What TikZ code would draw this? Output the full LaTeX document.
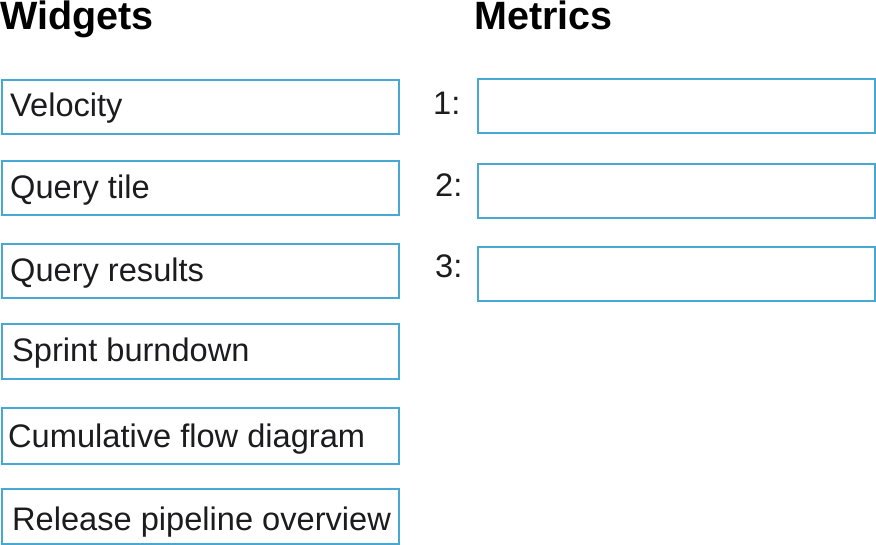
\documentclass[tikz,border=0pt]{standalone}
\usepackage{fontspec}
\setmainfont{Liberation Sans}
\definecolor{boxblue}{RGB}{72,168,212}
\definecolor{inkc}{RGB}{28,28,30}
\begin{document}
\begin{tikzpicture}[x=1pt,y=-1pt,
  boxshape/.style={draw=boxblue, line width=2pt, fill=white, rectangle, inner sep=0pt, anchor=north west},
  itemtext/.style={anchor=base west, inner sep=0pt, text=inkc, font=\fontsize{32.6}{36}\selectfont},
  headtext/.style={anchor=base west, inner sep=0pt, text=black, font=\fontsize{39.5}{44}\selectfont\bfseries}]
\useasboundingbox[fill=white] (0,0) rectangle (876,545);
% headings
\node[headtext] (hw) at (0,29.5) {Widgets};
\node[headtext] (hm) at (474,29.5) {Metrics};
% widget boxes
\node[boxshape, minimum width=397pt, minimum height=54pt] (b1) at (1,79) {};
\node[boxshape, minimum width=397pt, minimum height=54pt] (b2) at (1,160) {};
\node[boxshape, minimum width=397pt, minimum height=54pt] (b3) at (1,243) {};
\node[boxshape, minimum width=397pt, minimum height=55pt] (b4) at (1,323) {};
\node[boxshape, minimum width=397pt, minimum height=56pt] (b5) at (1,407) {};
\node[boxshape, minimum width=397pt, minimum height=55pt] (b6) at (1,488) {};
\node[itemtext] (t1) at (10,117) {Velocity};
\node[itemtext] (t2) at (10,199) {Query tile};
\node[itemtext] (t3) at (10,282) {Query results};
\node[itemtext] (t4) at (12,362) {Sprint burndown};
\node[itemtext] (t5) at (8,447) {Cumulative flow diagram};
\node[itemtext] (t6) at (12,530) {Release pipeline overview};
% metric boxes
\node[boxshape, minimum width=397pt, minimum height=54pt] (m1) at (477,78) {};
\node[boxshape, minimum width=397pt, minimum height=54pt] (m2) at (477,163) {};
\node[boxshape, minimum width=397pt, minimum height=54pt] (m3) at (477,246) {};
\node[itemtext] (n1) at (433,115) {1:};
\node[itemtext] (n2) at (435,197) {2:};
\node[itemtext] (n3) at (435,278) {3:};
\end{tikzpicture}
\end{document}
